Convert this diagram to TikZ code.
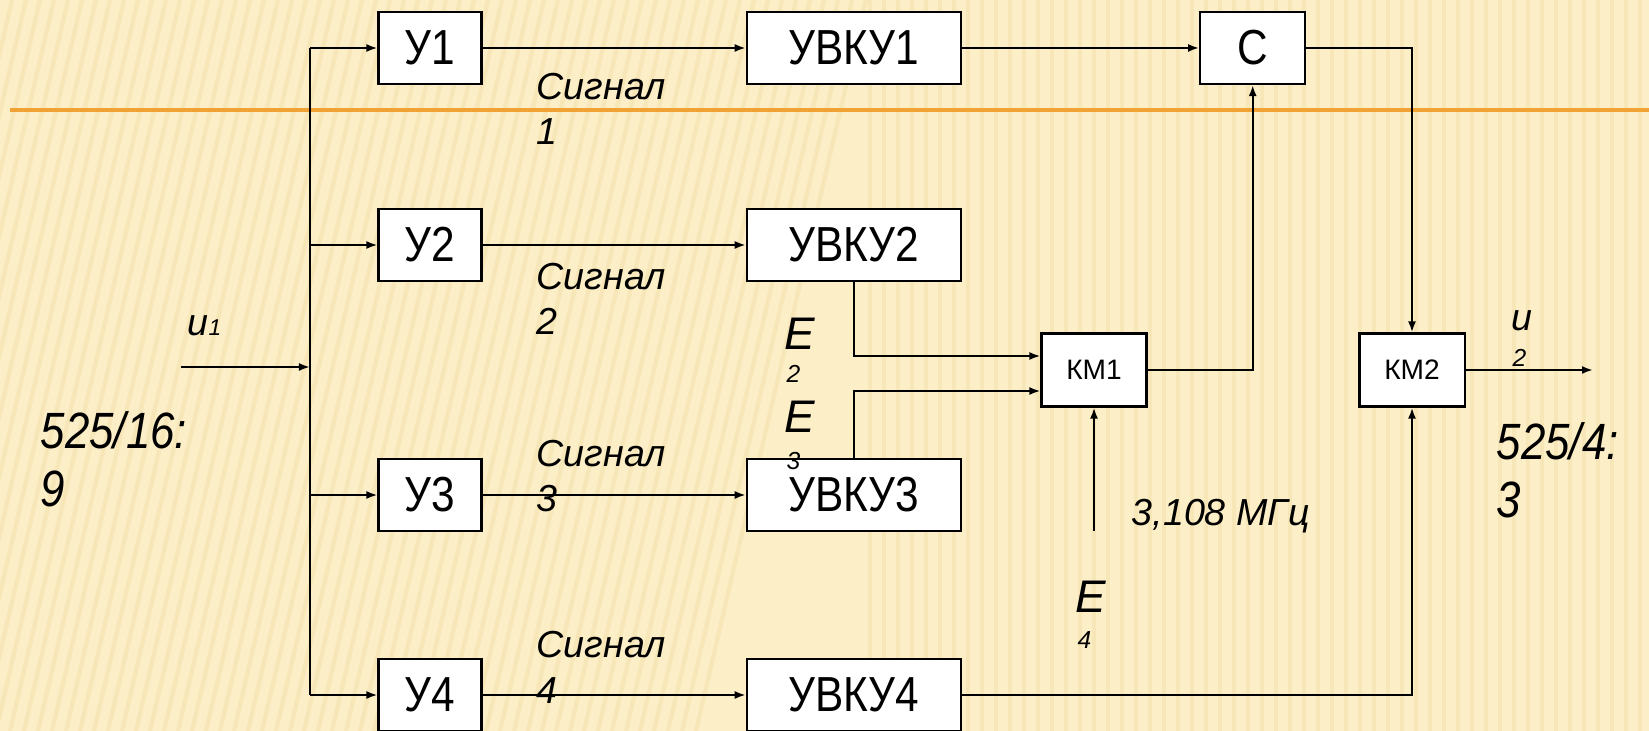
\documentclass[tikz,border=0pt]{standalone}
\usepackage{fontspec}
\setmainfont{Liberation Sans}
\newfontfamily\narrowfont[FakeStretch=0.86]{Liberation Sans}
\usetikzlibrary{arrows.meta,positioning}
\definecolor{paper}{RGB}{252,238,198}
\definecolor{stripe}{RGB}{236,208,140}
\definecolor{rulecol}{RGB}{240,163,52}

\begin{document}
\begin{tikzpicture}[x=0.01cm,y=-0.01cm,
    node distance=2.63cm,
    blk/.style={rectangle,draw=black,line width=0.6pt,fill=white,minimum width=1.03cm,
               minimum height=0.72cm,inner sep=0pt,font=\narrowfont\fontsize{14}{16}\selectfont},
    wide/.style={blk,minimum width=2.14cm},
    km/.style={blk,minimum width=1.05cm,minimum height=0.73cm,font=\fontsize{8}{9}\selectfont},
    lbl/.style={anchor=base west,inner sep=0pt,align=left,font=\fontsize{10.7}{12.8}\selectfont\itshape},
    big/.style={lbl,font=\narrowfont\fontsize{14.5}{16.5}\selectfont\itshape},
    ee/.style={anchor=base west,inner sep=0pt,font=\fontsize{13}{15}\selectfont\itshape},
    sb/.style={anchor=base west,inner sep=0pt,font=\fontsize{7}{8}\selectfont\itshape},
    ar/.style={-{Latex[length=1.1mm,width=0.8mm]},line width=0.6pt},
    ln/.style={line width=0.6pt}]
    % background
    \useasboundingbox (0,0) rectangle (1649,731);
    \fill[paper] (0,0) rectangle (1649,731);
    \begin{scope}
      \clip (0,0) rectangle (1649,731);
      \foreach \x in {-200,-186,...,700} \draw[stripe,line width=1.2pt,opacity=0.25] (\x,731) -- (\x+170,0);
      \foreach \x in {870,884,...,1649} \draw[stripe,line width=1.2pt,opacity=0.25] (\x,731) -- (\x,0);
    \end{scope}
    \draw[rulecol,line width=0.9pt] (10,110) -- (1649,110);

    % blocks
    \node[blk](amp1) at (430,48){У1};
    \node[blk](amp2) at (430,245){У2};
    \node[blk](amp3) at (430,495){У3};
    \node[blk](amp4) at (430,695){У4};
    \node[wide,right=of amp1](uvku1){УВКУ1};
    \node[wide,right=of amp2](uvku2){УВКУ2};
    \node[wide,right=of amp3](uvku3){УВКУ3};
    \node[wide,right=of amp4](uvku4){УВКУ4};
    \node[blk,minimum width=1.05cm,right=2.37cm of uvku1](sum){С};
    \node[km](km1) at (1094,370){КМ1};
    \node[km](km2) at (1412,370){КМ2};
    \coordinate (in) at (181,367);
    \coordinate (tr) at (310,367);
    \coordinate (gen) at (1094,531);
    \coordinate (out) at (1593,370);

    % connectors
    \draw[ar](in)--(tr);
    \draw[ln](amp1.west -| tr)--(amp4.west -| tr);
    \foreach \i in {1,...,4}{
      \draw[ar](amp\i.west -| tr)--(amp\i);
      \draw[ar](amp\i)--(uvku\i);
    }
    \draw[ar](uvku1)--(sum);
    \draw[ar](sum.east)-|(km2.north);
    \draw[ar](uvku2.south)|-([yshift=0.14cm]km1.west);
    \draw[ar](uvku3.north)|-([yshift=-0.21cm]km1.west);
    \draw[ar](km1.east)-|(sum.south);
    \draw[ar](gen)--(km1.south);
    \draw[ar](uvku4.east)-|(km2.south);
    \draw[ar](km2.east)--(out);

    % labels (base = last line)
    \node[lbl](sig1) at (536,145){Сигнал\\1};
    \node[lbl](sig2) at (536,335){Сигнал\\2};
    \node[lbl](sig3) at (536,512){Сигнал\\3};
    \node[lbl](sig4) at (536,703){Сигнал\\4};
    \node[big](fmt1) at (40,507){525/16:\\9};
    \node[big](fmt2) at (1496,518){525/4:\\3};
    \node[lbl](freq) at (1131,526){3,108 МГц};
    \node[lbl](uin) at (187,336){u{\fontsize{6.5}{7}\selectfont 1}};
    \node[lbl](uout) at (1511,331){u};
    \node[sb](uout2) at (1512,367){2};
    \node[ee](e2) at (784,350){E};
    \node[sb](e2s) at (786,383){2};
    \node[ee](e3) at (784,433){E};
    \node[sb](e3s) at (786,470){3};
    \node[ee](e4) at (1075,612){E};
    \node[sb](e4s) at (1077,648){4};
  \end{tikzpicture}
\end{document}
